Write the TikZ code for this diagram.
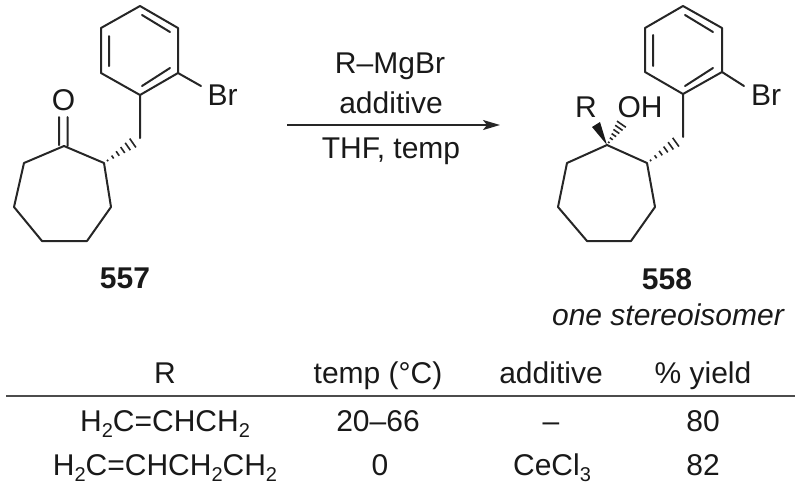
\documentclass[tikz,border=0pt]{standalone}
\usepackage{fontspec}
\setmainfont{Liberation Sans}
\usetikzlibrary{calc,arrows.meta}
\newcommand{\lowtext}[1]{\raisebox{-6pt}{\fontsize{20}{20}\selectfont #1}}
\newcommand{\hashbond}[2]{%
  \foreach \tt/\ww in {0.10/0.9,0.24/1.8,0.38/2.7,0.52/3.6,0.66/4.5,0.80/5.4}{%
    \draw[bond,line width=1.6pt,line cap=butt]
      ($(#1)!\tt!(#2)!\ww pt!90:(#2)$) -- ($(#1)!\tt!(#2)!\ww pt!-90:(#2)$);
  }%
}
\tikzset{
  bond/.style={line width=2pt,draw=black!85,line cap=round,line join=round},
  txt/.style={font=\fontsize{30}{34}\selectfont,anchor=base,inner sep=0pt,text=black!90},
  bold/.style={txt,font=\fontsize{30}{34}\selectfont\bfseries},
  ital/.style={txt,font=\fontsize{30}{34}\selectfont\itshape},
  rule/.style={line width=2.2pt,draw=black!70},
  rxn/.style={line width=2.1pt,draw=black!85,-{Stealth[length=17pt,width=10pt,inset=4pt]}},
}
\begin{document}
\begin{tikzpicture}[x=1pt,y=-1pt]
\useasboundingbox (0,0) rectangle (800,491);
% --- 557 ---
\foreach \n/\p in {a1/{64,146},a2/{104,163},a3/{111,207},a4/{87,241},a5/{42,241},a6/{14,207},a7/{24,163},
  ach/{140,138},b1/{140,95},b2/{178,73},b3/{178,28},b4/{140,6},b5/{101,28},b6/{101,73},
  abr/{201,86},ao1/{59,117},ao2/{59,145},ao3/{67.5,117},ao4/{67.5,146},
  ai1/{109,36},ai2/{109,66},ai3/{142,15},ai4/{170,32},ai5/{142,86},ai6/{170,68}}
  {\coordinate (\n) at (\p);}
\draw[bond] (a1)--(a2)--(a3)--(a4)--(a5)--(a6)--(a7)--cycle;
\draw[bond] (b1)--(b2)--(b3)--(b4)--(b5)--(b6)--cycle;
\draw[bond] (b1)--(ach) (b2)--(abr) (ao1)--(ao2) (ao3)--(ao4)
  (ai1)--(ai2) (ai3)--(ai4) (ai5)--(ai6);
\hashbond{a2}{ach}
\node[txt] (o1) at (63.5,110) {O};
\node[txt] (br1) at (222.5,105) {Br};
\node[bold] (n557) at (125,288) {557};
% --- arrow ---
\node[txt] (r1) at (390,73) {R–MgBr};
\node[txt] (r2) at (391,113) {additive};
\node[txt] (r3) at (391,158) {THF, temp};
\coordinate (arr1) at (287,125);
\coordinate (arr2) at (500,125);
\draw[rxn] (arr1)--(arr2);
% --- 558 ---
\foreach \n/\p in {c1/{607,145},c2/{647,163},c3/{655,207},c4/{631,241},c5/{587,241},c6/{558,207},c7/{567,163},
  cch/{683,137},d1/{683,94},d2/{722,72},d3/{722,28},d4/{683,6},d5/{645,28},d6/{645,72},
  cbr/{744,86},ci1/{653,35},ci2/{653,66},ci3/{685,15},ci4/{713,32},ci5/{685,86},ci6/{713,68},
  w1/{592,127},w2/{600,122},coh/{625,119}}
  {\coordinate (\n) at (\p);}
\draw[bond] (c1)--(c2)--(c3)--(c4)--(c5)--(c6)--(c7)--cycle;
\draw[bond] (d1)--(d2)--(d3)--(d4)--(d5)--(d6)--cycle;
\draw[bond] (d1)--(cch) (d2)--(cbr) (ci1)--(ci2) (ci3)--(ci4) (ci5)--(ci6);
\hashbond{c2}{cch}
\hashbond{c1}{coh}
\fill[black!90] (c1)--(w1)--(w2)--cycle;
\node[txt] (rr) at (586,117) {R};
\node[txt] (oh) at (640,117) {OH};
\node[txt] (br2) at (766,105) {Br};
\node[bold] (n558) at (667,289) {558};
\node[ital] (one) at (668,325) {one stereoisomer};
% --- table ---
\node[txt] (h1) at (165,383) {R};
\node[txt] (h2) at (378,383) {temp (°C)};
\node[txt] (h3) at (551,383) {additive};
\node[txt] (h4) at (703,383) {\% yield};
\coordinate (ru1) at (6,396);
\coordinate (ru2) at (795,396);
\draw[rule] (ru1)--(ru2);
\node[txt] (t11) at (165,431) {H\lowtext{2}C=CHCH\lowtext{2}};
\node[txt] (t12) at (378,431) {20–66};
\node[txt] (t13) at (551,431) {–};
\node[txt] (t14) at (703,431) {80};
\node[txt] (t21) at (165,475) {H\lowtext{2}C=CHCH\lowtext{2}CH\lowtext{2}};
\node[txt] (t22) at (380,475) {0};
\node[txt] (t23) at (552,475) {CeCl\lowtext{3}};
\node[txt] (t24) at (703,475) {82};
\end{tikzpicture}
\end{document}
